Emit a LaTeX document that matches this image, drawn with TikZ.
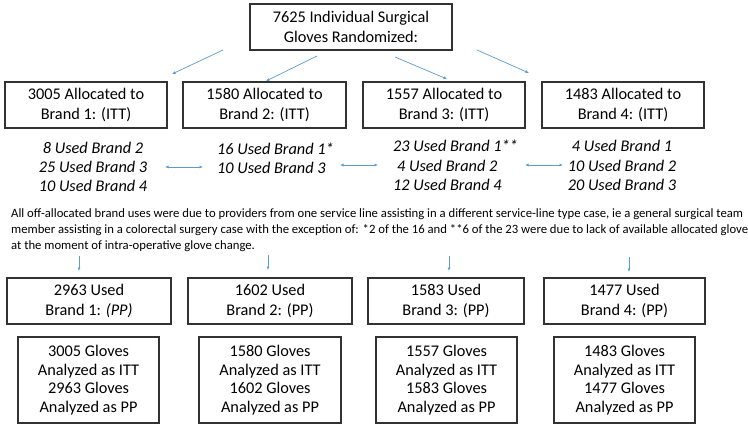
\documentclass[tikz,border=0pt]{standalone}
\usepackage{fontspec}
\setmainfont{Carlito}
\usetikzlibrary{arrows.meta}
\definecolor{arrowblue}{RGB}{91,155,213}
\definecolor{boxline}{RGB}{50,50,50}
\begin{document}
\begin{tikzpicture}[x=1pt,y=-1pt,
  box/.style={draw=boxline,line width=1.2pt,inner sep=0pt,align=center,
    font=\fontsize{16.3}{19.5}\selectfont},
  usedtext/.style={inner sep=0pt,font=\fontsize{16.3}{19.3}\selectfont\itshape},
  conn/.style={draw=arrowblue,line width=0.7pt,-{Latex[length=3.5pt,width=3pt]}},
  dconn/.style={draw=arrowblue,line width=0.7pt,{Latex[length=3.5pt,width=3pt]}-{Latex[length=3.5pt,width=3pt]}}]
\useasboundingbox (0,0) rectangle (748,429);
\fill[white] (0,0) rectangle (748,429);
% top
\node[box,minimum width=202pt,minimum height=46pt] (top) at (351,27) {7625 Individual Surgical\\Gloves Randomized:};
% row 2
\node[box,minimum width=162pt,minimum height=46pt] (a1) at (86,105) {3005 Allocated to\\Brand 1: (ITT)};
\node[box,minimum width=163pt,minimum height=46pt] (a2) at (264.5,105) {1580 Allocated to\\Brand 2: (ITT)};
\node[box,minimum width=162pt,minimum height=46pt] (a3) at (444,105) {1557 Allocated to\\Brand 3: (ITT)};
\node[box,minimum width=162pt,minimum height=46pt] (a4) at (623,105) {1483 Allocated to\\Brand 4: (ITT)};
% italic usage
\node[usedtext,align=center] (u1) at (93,167) {8 Used Brand 2\\25 Used Brand 3\\10 Used Brand 4};
\node[usedtext,align=left,anchor=west] (u2) at (217,158) {16 Used Brand 1*\\10 Used Brand 3};
\node[usedtext,align=left,anchor=west] (u3) at (393,165.5) {23 Used Brand 1**\\\hspace*{4pt}4 Used Brand 2\\12 Used Brand 4};
\node[usedtext,align=center] (u4) at (622,165.5) {4 Used Brand 1\\10 Used Brand 2\\20 Used Brand 3};
% note
\node[inner sep=0pt,anchor=north west,align=left,font=\fontsize{12.7}{16}\selectfont] (note) at (11,208.5)
{All off-allocated brand uses were due to providers from one service line assisting in a different service-line type case, ie a general surgical team\\
member assisting in a colorectal surgery case with the exception of: *2 of the 16 and **6 of the 23 were due to lack of available allocated glove\\
at the moment of intra-operative glove change.};
% row 3
\node[box,minimum width=164pt,minimum height=46pt] (p1) at (89,301) {2963 Used\\Brand 1: \textit{(PP)}};
\node[box,minimum width=164pt,minimum height=46pt] (p2) at (270,301) {1602 Used\\Brand 2: (PP)};
\node[box,minimum width=156pt,minimum height=46pt] (p3) at (446,301) {1583 Used\\Brand 3: (PP)};
\node[box,minimum width=161pt,minimum height=46pt] (p4) at (624.5,301) {1477 Used\\Brand 4: (PP)};
% row 4
\node[box,minimum width=141pt,minimum height=86pt,font=\fontsize{16.3}{18.7}\selectfont] (s1) at (88.5,380) {3005 Gloves\\Analyzed as ITT\\2963 Gloves\\Analyzed as PP};
\node[box,minimum width=142pt,minimum height=86pt,font=\fontsize{16.3}{18.7}\selectfont] (s2) at (270,380) {1580 Gloves\\Analyzed as ITT\\1602 Gloves\\Analyzed as PP};
\node[box,minimum width=141pt,minimum height=86pt,font=\fontsize{16.3}{18.7}\selectfont] (s3) at (446.5,380) {1557 Gloves\\Analyzed as ITT\\1583 Gloves\\Analyzed as PP};
\node[box,minimum width=141pt,minimum height=86pt,font=\fontsize{16.3}{18.7}\selectfont] (s4) at (624.5,380) {1483 Gloves\\Analyzed as ITT\\1477 Gloves\\Analyzed as PP};
% arrow end points
\coordinate (t1s) at (223,50); \coordinate (t1e) at (172,74);
\coordinate (t2s) at (317,56); \coordinate (t2e) at (266,81);
\coordinate (t3s) at (395,57); \coordinate (t3e) at (447,79);
\coordinate (t4s) at (477,50); \coordinate (t4e) at (529,73);
\draw[conn] (t1s) -- (t1e);
\draw[conn] (t2s) -- (t2e);
\draw[conn] (t3s) -- (t3e);
\draw[conn] (t4s) -- (t4e);
\coordinate (d1s) at (165,167); \coordinate (d1e) at (203,167);
\coordinate (d2s) at (340,165); \coordinate (d2e) at (378,165);
\coordinate (d3s) at (525,165); \coordinate (d3e) at (563,165);
\draw[dconn] (d1s) -- (d1e);
\draw[dconn] (d2s) -- (d2e);
\draw[dconn] (d3s) -- (d3e);
\coordinate (v1s) at (79,256); \coordinate (v1e) at (79,271);
\coordinate (v2s) at (268,255); \coordinate (v2e) at (268,270);
\coordinate (v3s) at (449,256); \coordinate (v3e) at (449,271);
\coordinate (v4s) at (629,257); \coordinate (v4e) at (629,272);
\draw[conn] (v1s) -- (v1e);
\draw[conn] (v2s) -- (v2e);
\draw[conn] (v3s) -- (v3e);
\draw[conn] (v4s) -- (v4e);
\end{tikzpicture}
\end{document}
